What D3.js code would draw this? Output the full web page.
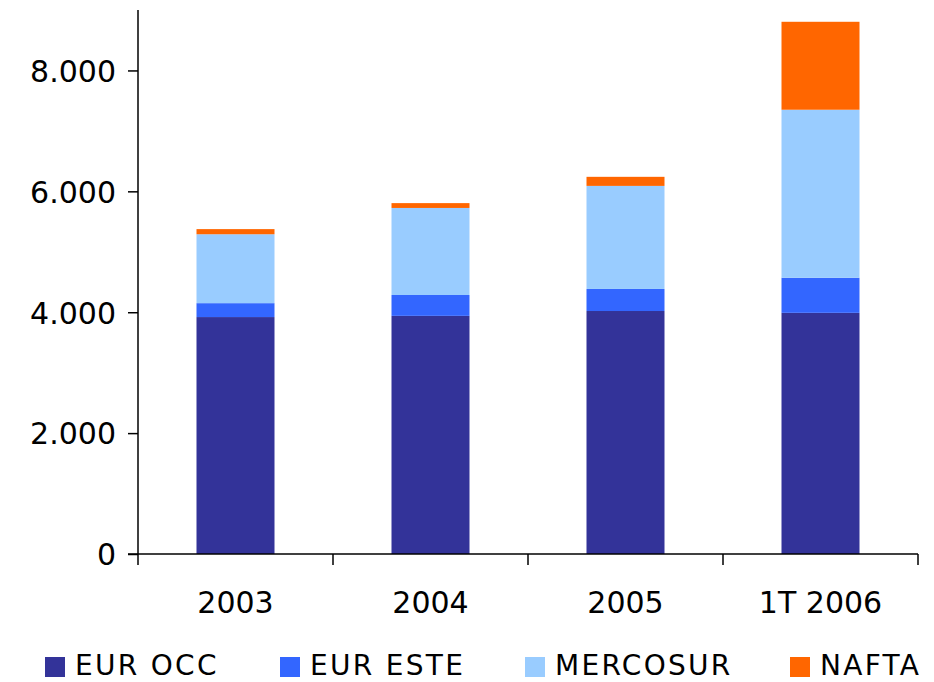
<!DOCTYPE html>
<html>
<head>
<meta charset="utf-8">
<script src="https://cdn.jsdelivr.net/npm/d3@7"></script>
<style>
  html, body { margin: 0; padding: 0; background: #fff; }
  svg { display: block; font-family: "DejaVu Sans", Verdana, sans-serif; }
</style>
</head>
<body>
<svg id="chart" width="934" height="682"></svg>
<script>
const categories = ["2003", "2004", "2005", "1T 2006"];
const seriesNames = ["EUR OCC", "EUR ESTE", "MERCOSUR", "NAFTA"];
const eurOcc   = [3920, 3940, 4020, 3990];
const eurEste  = [230, 345, 365, 580];
const mercosur = [1140, 1440, 1705, 2780];
const nafta    = [85, 80, 150, 1455];
const yTicks   = [0, 2000, 4000, 6000, 8000];
const colors   = ["#333399", "#3366FF", "#99CCFF", "#FF6600"];

const seriesValues = [eurOcc, eurEste, mercosur, nafta];
const rows = categories.map((c, i) => {
  const r = { cat: c };
  seriesNames.forEach((s, j) => r[s] = seriesValues[j][i]);
  return r;
});

const svg = d3.select("#chart");
const mLeft = 138, mRight = 918, mTop = 10, mBottom = 554;

const x = d3.scaleBand().domain(categories).range([mLeft, mRight]).padding(0);
const y = d3.scaleLinear().domain([0, 9000]).range([mBottom, mTop]);
const color = d3.scaleOrdinal().domain(seriesNames).range(colors);

const stacked = d3.stack().keys(seriesNames)(rows);
const barW = x.bandwidth() * 0.4;

svg.append("g").selectAll("g").data(stacked).join("g")
  .attr("fill", d => color(d.key))
  .selectAll("rect").data(d => d).join("rect")
  .attr("x", d => x(d.data.cat) + (x.bandwidth() - barW) / 2)
  .attr("width", barW)
  .attr("y", d => y(d[1]))
  .attr("height", d => y(d[0]) - y(d[1]));

const loc = d3.formatLocale({ decimal: ",", thousands: ".", grouping: [3], currency: ["", ""] });
const fmt = loc.format(",");

// Y axis
const yAxis = svg.append("g").attr("transform", `translate(${mLeft},0)`)
  .call(d3.axisLeft(y).tickValues(yTicks).tickFormat(fmt).tickSize(10).tickPadding(12));
yAxis.select(".domain").remove();
yAxis.append("line").attr("x1", 0).attr("x2", 0).attr("y1", mTop).attr("y2", mBottom)
  .attr("stroke", "#000").attr("stroke-width", 1.5);
yAxis.selectAll(".tick line").attr("stroke", "#000").attr("stroke-width", 1.5);
yAxis.selectAll(".tick text").attr("font-size", 30).attr("fill", "#000")
  .attr("font-family", "DejaVu Sans, Verdana, sans-serif").attr("dy", "0.36em");

// X axis
const xAxis = svg.append("g").attr("transform", `translate(0,${mBottom})`)
  .call(d3.axisBottom(x).tickSize(0).tickPadding(38));
xAxis.select(".domain").remove();
xAxis.append("line").attr("x1", mLeft - 10).attr("x2", mRight).attr("y1", 0).attr("y2", 0)
  .attr("stroke", "#000").attr("stroke-width", 1.5);
xAxis.selectAll(".tick text").attr("font-size", 30).attr("fill", "#000")
  .attr("font-family", "DejaVu Sans, Verdana, sans-serif");
const bounds = categories.map(c => x(c)).concat([x(categories[categories.length - 1]) + x.bandwidth()]);
xAxis.selectAll("line.bt").data(bounds).join("line").attr("class", "bt")
  .attr("x1", d => d).attr("x2", d => d).attr("y1", 0).attr("y2", 11)
  .attr("stroke", "#000").attr("stroke-width", 1.5);

// Legend
const legendX = [45, 280, 525, 790];
const lg = svg.append("g").selectAll("g").data(seriesNames).join("g")
  .attr("transform", (d, i) => `translate(${legendX[i]},657)`);
lg.append("rect").attr("width", 20).attr("height", 20).attr("fill", d => color(d));
lg.append("text").attr("x", 30).attr("y", 18).attr("font-size", 28)
  .attr("letter-spacing", 2.3).attr("fill", "#000")
  .text(d => d);
</script>
</body>
</html>
